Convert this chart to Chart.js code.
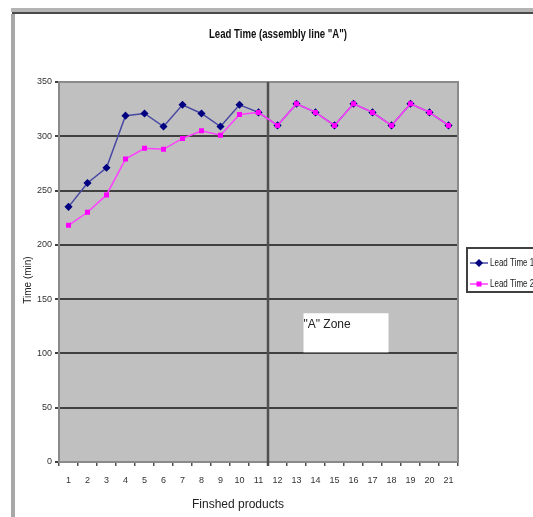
<!DOCTYPE html>
<html>
<head>
<meta charset="utf-8">
<title>Lead Time</title>
<script src="https://cdn.jsdelivr.net/npm/chart.js@4.4.1/dist/chart.umd.min.js"></script>
<style>
    body { margin: 0; background: #fff; }
    #wrap { width: 533px; height: 517px; }
</style>
</head>
<body>
<div id="wrap"><canvas id="leadChart" width="533" height="517"></canvas></div>
<script>
// du lieu doc tu hinh
var products = ['1', '2', '3', '4', '5', '6', '7', '8', '9', '10', '11',
    '12', '13', '14', '15', '16', '17', '18', '19', '20', '21'];
var leadTime1 = [235, 257, 271, 319, 321, 309, 329, 321, 309, 329, 322,
    310, 330, 322, 310, 330, 322, 310, 330, 322, 310];
var leadTime2 = [218, 230, 246, 279, 289, 288, 298, 305, 301, 320, 322,
    310, 330, 322, 310, 330, 322, 310, 330, 322, 310];
var yTicks = [0, 50, 100, 150, 200, 250, 300, 350];

var seriesNames = ['Lead Time 1', 'Lead Time 2'];
var blueLine = '#4848a4', blueMark = '#000080';
var pinkLine = '#ff40ff', pinkMark = '#ff00ff';

// ve chu bi ep ngang (giong font narrow)
function narrowText(c, text, x, y, font, squeeze, align) {
    c.save();
    c.font = font;
    c.textBaseline = 'middle';
    c.textAlign = 'left';
    var w = c.measureText(text).width * squeeze;
    var x0 = align === 'center' ? x - w / 2 : x;
    c.translate(x0, y);
    c.scale(squeeze, 1);
    c.fillText(text, 0, 0);
    c.restore();
}

var decor = {
    id: 'decor',
    beforeDraw: function (chart) {
        var c = chart.ctx, a = chart.chartArea;
        c.save();
        c.fillStyle = '#fff';
        c.fillRect(0, 0, chart.width, chart.height);
        // khung ngoai
        c.fillStyle = '#b4b4b4';
        c.fillRect(11, 8, 522, 4);
        c.fillStyle = '#4a4a4a';
        c.fillRect(12, 12, 521, 2);
        c.fillStyle = '#a8a8a8';
        c.fillRect(11, 14, 4, 503);
        // nen vung ve
        c.fillStyle = '#c0c0c0';
        c.fillRect(a.left, a.top, a.right - a.left, a.bottom - a.top);
        c.restore();
    },
    beforeDatasetsDraw: function (chart) {
        var c = chart.ctx, a = chart.chartArea;
        var x = chart.scales.x, y = chart.scales.y;
        c.save();
        // vien vung ve
        c.strokeStyle = '#8a8a8a';
        c.lineWidth = 2;
        c.strokeRect(a.left, a.top, a.right - a.left, a.bottom - a.top);
        // duong chia giua 11 va 12
        var xm = (x.getPixelForValue(10) + x.getPixelForValue(11)) / 2;
        c.strokeStyle = '#505050';
        c.lineWidth = 2.5;
        c.beginPath();
        c.moveTo(xm, a.top);
        c.lineTo(xm, a.bottom + 4);
        c.stroke();
        // o "A" Zone
        var bx = x.getPixelForValue(12) + 7;
        var bw = 85;
        var by = y.getPixelForValue(137);
        var bh = y.getPixelForValue(101) - by;
        c.fillStyle = '#fff';
        c.fillRect(bx, by, bw, bh);
        c.fillStyle = '#222';
        c.font = '12px "Liberation Sans"';
        c.textAlign = 'left';
        c.textBaseline = 'middle';
        c.fillText('"A" Zone', bx, by + 11);
        c.restore();
    },
    afterDraw: function (chart) {
        var c = chart.ctx;
        c.save();
        // tieu de
        c.fillStyle = '#111';
        narrowText(c, 'Lead Time (assembly line "A")', 278, 35, 'bold 12px "Liberation Sans"', 0.8, 'center');
        // ten truc
        c.font = '12px "Liberation Sans"';
        c.fillStyle = '#222';
        c.textAlign = 'center';
        c.textBaseline = 'middle';
        c.fillText('Finshed products', 238, 505);
        c.translate(28, 280);
        c.rotate(-Math.PI / 2);
        c.font = '10px "Liberation Sans"';
        c.fillText('Time (min)', 0, 0);
        c.restore();

        // chu thich
        c.save();
        c.fillStyle = '#fff';
        c.fillRect(467, 248, 80, 44);
        c.strokeStyle = '#404040';
        c.lineWidth = 2;
        c.strokeRect(467, 248, 80, 44);
        var rows = [
            { y: 263, line: blueLine, mark: blueMark, style: 'rectRot', r: 3 },
            { y: 284, line: pinkLine, mark: pinkMark, style: 'rect', r: 2.5 }
        ];
        rows.forEach(function (row, i) {
            c.strokeStyle = row.line;
            c.lineWidth = 1.5;
            c.beginPath();
            c.moveTo(470, row.y);
            c.lineTo(488, row.y);
            c.stroke();
            c.fillStyle = row.mark;
            c.strokeStyle = row.mark;
            Chart.helpers.drawPoint(c, { pointStyle: row.style, radius: row.r, borderWidth: 1 }, 479, row.y);
            c.fillStyle = '#222';
            narrowText(c, seriesNames[i], 490, row.y, '10px "Liberation Sans"', 0.8, 'left');
        });
        c.restore();
    }
};

var ctx = document.getElementById('leadChart').getContext('2d');
var leadChart = new Chart(ctx, {
    type: 'line',
    data: {
        labels: products,
        datasets: [{
                label: seriesNames[0],
                data: leadTime1,
                borderColor: blueLine,
                borderWidth: 1.5,
                pointStyle: 'rectRot',
                pointRadius: 3,
                pointBackgroundColor: blueMark,
                pointBorderColor: blueMark,
                tension: 0,
                order: 2
            }, {
                label: seriesNames[1],
                data: leadTime2,
                borderColor: pinkLine,
                borderWidth: 1.5,
                pointStyle: 'rect',
                pointRadius: 2.5,
                pointBackgroundColor: pinkMark,
                pointBorderColor: pinkMark,
                tension: 0,
                order: 1
            }]
    },
    options: {
        responsive: false,
        animation: false,
        layout: {
            padding: { left: 0, top: 82, right: 75, bottom: 0 }
        },
        scales: {
            x: {
                type: 'category',
                offset: true,
                grid: {
                    offset: true,
                    drawOnChartArea: false,
                    tickLength: 4,
                    color: '#505050',
                    lineWidth: 1.5
                },
                border: { display: true, color: '#404040', width: 2 },
                ticks: {
                    autoSkip: false,
                    maxRotation: 0,
                    padding: 9,
                    color: '#333',
                    font: { family: 'Liberation Sans', size: 9 }
                },
                afterFit: function (scale) { scale.height = 55; }
            },
            y: {
                min: 0,
                max: 350,
                afterBuildTicks: function (scale) {
                    scale.ticks = yTicks.map(function (v) { return { value: v }; });
                },
                grid: {
                    color: '#404040',
                    lineWidth: 2,
                    tickLength: 4
                },
                border: { display: true, color: '#606060', width: 2 },
                ticks: {
                    padding: 3,
                    color: '#333',
                    font: { family: 'Liberation Sans', size: 9 }
                },
                afterFit: function (scale) { scale.width = 59; }
            }
        },
        plugins: {
            legend: { display: false },
            title: { display: false },
            tooltip: { enabled: false }
        }
    },
    plugins: [decor]
});
</script>
</body>
</html>
